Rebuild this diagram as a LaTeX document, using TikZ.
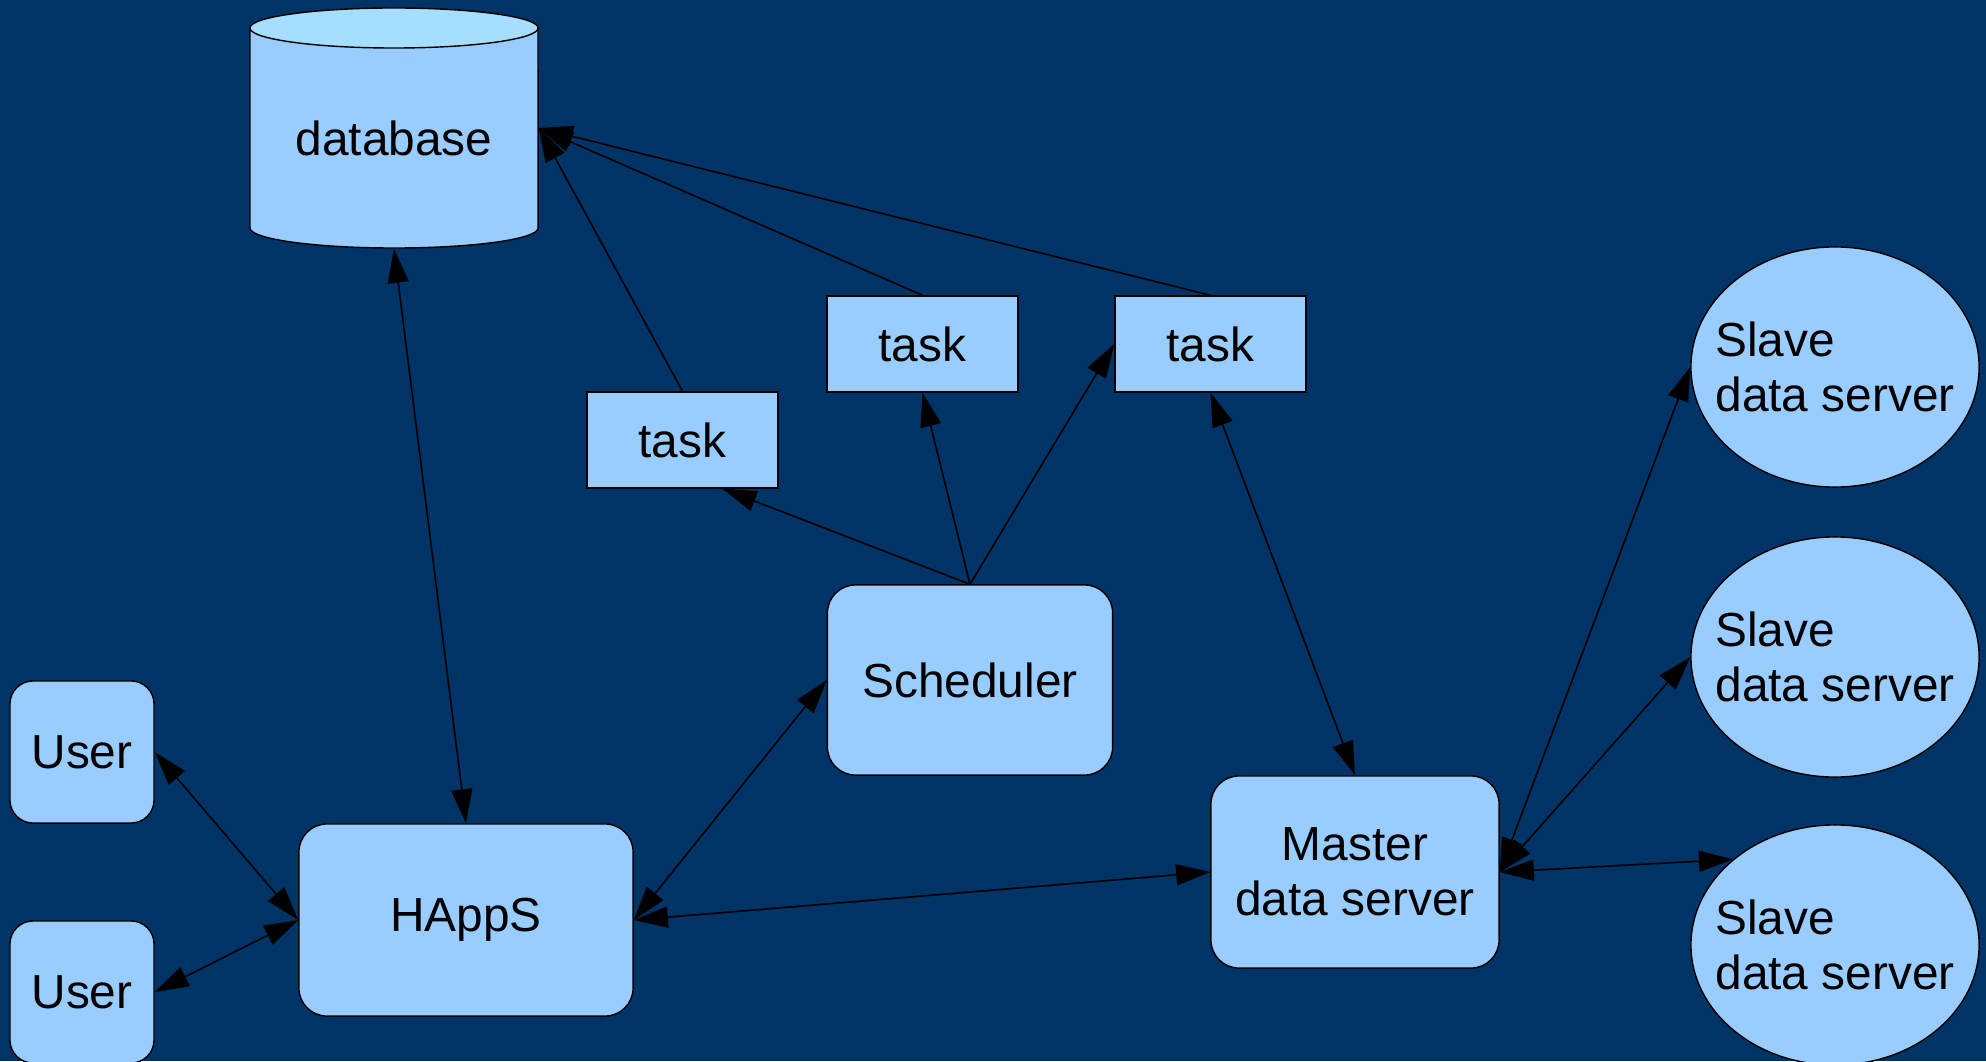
\documentclass[tikz,border=0pt]{standalone}
\usepackage{fontspec}
\setmainfont{Liberation Sans}
\usetikzlibrary{arrows.meta,shapes.geometric,calc}
\definecolor{bgnavy}{HTML}{003366}
\definecolor{boxblue}{HTML}{99CCFF}
\definecolor{captop}{HTML}{A6DEFF}
\tikzset{bighead/.tip={Triangle[length=0.34cm,width=0.21cm]}}
\begin{document}
\begin{tikzpicture}[x=0.01cm, y=-0.01cm,
  lbl/.style={font={\fontsize{13.6pt}{15.6pt}\selectfont}, text=black},
  box/.style={lbl, draw=black, line width=0.4pt, fill=boxblue, inner sep=0pt},
  rbox/.style={box, rounded corners=0.28cm},
  userbox/.style={box, rounded corners=0.23cm, minimum width=1.44cm, minimum height=1.42cm},
  taskbox/.style={box, minimum width=1.91cm, minimum height=0.96cm},
  slavebox/.style={box, ellipse, minimum width=2.88cm, minimum height=2.4cm},
  link/.style={line width=0.45pt, -bighead},
  both/.style={line width=0.45pt, bighead-bighead},
]
\useasboundingbox (0,0) rectangle (1986,1061);
\clip (0,0) rectangle (1986,1061);
\fill[bgnavy] (0,0) rectangle (1986,1061);

% database cylinder
\path[fill=boxblue, draw=black, line width=0.4pt]
  (250,28) -- (250,228) arc[start angle=180, end angle=360, x radius=1.44cm, y radius=0.2cm]
  -- (538,28) -- cycle;
\draw[fill=captop, line width=0.4pt] (394,28) ellipse[x radius=1.44cm, y radius=0.2cm];
\node[inner sep=0pt, minimum width=2.88cm, minimum height=2.4cm] (db) at (394,128) {};
\node[lbl] (dbtext) at (394,138) {database};

% users and front end
\node[userbox] (user1) at (82,752) {User};
\node[userbox] (user2) at (82,992) {User};
\node[rbox, minimum width=3.34cm, minimum height=1.92cm] (happs) at (466,920) {HAppS};

% scheduler and tasks
\node[rbox, minimum width=2.85cm, minimum height=1.9cm] (sched) at (970,680) {Scheduler};
\node[taskbox] (task1) at (682.5,440) {task};
\node[taskbox] (task2) at (922.5,344) {task};
\node[taskbox] (task3) at (1210.5,344) {task};

% data servers
\node[rbox, minimum width=2.88cm, minimum height=1.92cm, align=center] (master) at (1355,872) {Master\\data server};
\node[slavebox] (slave1) at (1835,367) {};
\node[slavebox] (slave2) at (1835,657) {};
\node[slavebox] (slave3) at (1835,945) {};
\node[lbl, align=left] (slave1text) at (slave1) {Slave\\data server};
\node[lbl, align=left] (slave2text) at (slave2) {Slave\\data server};
\node[lbl, align=left] (slave3text) at (slave3) {Slave\\data server};

% connections
\draw[both] (db.south) -- (happs.north);
\draw[both] (user1.east) -- (happs.west);
\draw[both] (user2.east) -- (happs.west);
\draw[both] (happs.east) -- (sched.west);
\draw[both] (happs.east) -- (master.west);
\draw[link] (sched.north) -- ($(task1.south)+(40,0)$);
\draw[link] (sched.north) -- (task2.south);
\draw[link] (sched.north) -- (task3.west);
\draw[link] (task1.north) -- (db.east);
\draw[link] (task2.north) -- (db.east);
\draw[link] (task3.north) -- (db.east);
\draw[both] (task3.south) -- (master.north);
\draw[both] (master.east) -- (slave1.west);
\draw[both] (master.east) -- (slave2.west);
\draw[both] (master.east) -- (slave3.140);
\end{tikzpicture}
\end{document}
